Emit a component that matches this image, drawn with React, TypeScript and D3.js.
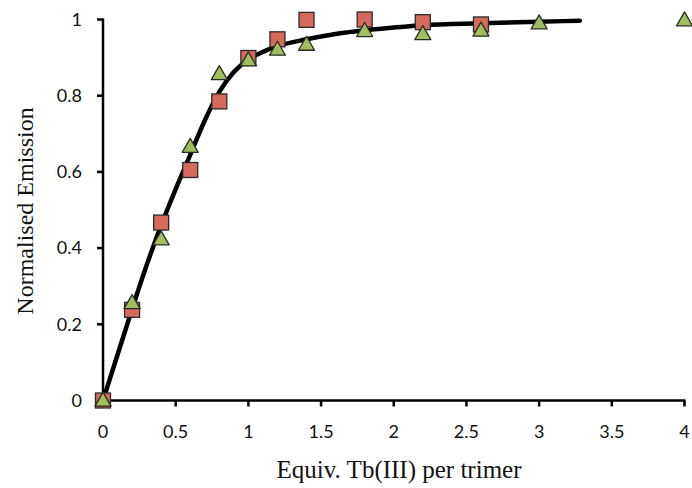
import React from "react";
import * as d3 from "d3";

// Titration: equivalents of Tb(III) added per trimer vs. normalised emission
const squareX = [0, 0.2, 0.4, 0.6, 0.8, 1.0, 1.2, 1.4, 1.8, 2.2, 2.6];
const squareY = [0, 0.238, 0.467, 0.605, 0.785, 0.899, 0.948, 0.999, 1.0, 0.993, 0.987];

const triangleX = [0, 0.2, 0.4, 0.6, 0.8, 1.0, 1.2, 1.4, 1.8, 2.2, 2.6, 3.0, 4.0];
const triangleY = [0, 0.256, 0.423, 0.666, 0.857, 0.893, 0.921, 0.934, 0.97, 0.962, 0.971, 0.99, 0.998];

// Fitted binding curve
const fitX = [0, 0.1, 0.2, 0.3, 0.4, 0.5, 0.6, 0.7, 0.8, 0.9, 1.0, 1.1, 1.2, 1.4, 1.6, 1.8, 2.0, 2.2, 2.6, 3.0, 3.28];
const fitY = [0, 0.12, 0.24, 0.355, 0.46, 0.555, 0.645, 0.735, 0.81, 0.862, 0.895, 0.915, 0.93, 0.948, 0.962, 0.972, 0.979, 0.985, 0.99, 0.994, 0.997];

const xTicks = [0, 0.5, 1, 1.5, 2, 2.5, 3, 3.5, 4];
const yTicks = [0, 0.2, 0.4, 0.6, 0.8, 1];

const W = 692;
const H = 488;

export default function App() {
  const x = d3.scaleLinear().domain([0, 4]).range([103, 684.5]);
  const y = d3.scaleLinear().domain([0, 1]).range([400.5, 19.5]);

  const fitData = fitX.map((v, i) => [v, fitY[i]] as [number, number]);
  const line = d3
    .line<[number, number]>()
    .x((d) => x(d[0]))
    .y((d) => y(d[1]))
    .curve(d3.curveMonotoneX);

  const sq = 15;
  const triW = 16;
  const triH = 14;
  const triPath = (cx: number, cy: number) =>
    `M${cx},${cy - triH * 0.6}L${cx + triW / 2},${cy + triH * 0.4}L${cx - triW / 2},${cy + triH * 0.4}Z`;

  const tickFont = "Lato, 'Open Sans', sans-serif";
  const titleFont = "'Liberation Serif', 'Times New Roman', serif";

  return (
    <svg
      width={W}
      height={H}
      style={{ position: "absolute", left: 0, top: 0, background: "#fff" }}
    >
      {/* axes */}
      <line x1={x(0)} x2={x(0)} y1={y(1) - 1} y2={y(0)} stroke="#000" strokeWidth={2.5} />
      <line x1={x(0)} x2={x(4) + 1} y1={y(0)} y2={y(0)} stroke="#000" strokeWidth={2.5} />
      {yTicks.map((t) => (
        <g key={"y" + t}>
          <line x1={x(0) - 6} x2={x(0)} y1={y(t)} y2={y(t)} stroke="#000" strokeWidth={2.5} />
          <text
            x={82}
            y={y(t)}
            dy="0.35em"
            textAnchor="end"
            fontFamily={tickFont}
            fontSize={18}
            fill="#111"
          >
            {t === 0 || t === 1 ? String(t) : t.toFixed(1)}
          </text>
        </g>
      ))}
      {xTicks.map((t) => (
        <g key={"x" + t}>
          <line x1={x(t)} x2={x(t)} y1={y(0)} y2={y(0) + 6} stroke="#000" strokeWidth={2.5} />
          <text
            x={x(t)}
            y={432}
            dy="0.35em"
            textAnchor="middle"
            fontFamily={tickFont}
            fontSize={18}
            fill="#111"
          >
            {String(t)}
          </text>
        </g>
      ))}

      {/* axis titles */}
      <text
        x={399}
        y={478}
        textAnchor="middle"
        fontFamily={titleFont}
        fontSize={25}
        fill="#111"
      >
        Equiv. Tb(III) per trimer
      </text>
      <text
        transform={`translate(33,211) rotate(-90)`}
        textAnchor="middle"
        fontFamily={titleFont}
        fontSize={24}
        fill="#111"
      >
        Normalised Emission
      </text>

      {/* fit curve */}
      <path d={line(fitData) ?? ""} fill="none" stroke="#000" strokeWidth={4.5} strokeLinecap="round" />

      {/* square series */}
      {squareX.map((v, i) => (
        <rect
          key={"s" + i}
          x={x(v) - sq / 2}
          y={y(squareY[i]) - sq / 2}
          width={sq}
          height={sq}
          fill="#d4695c"
          stroke="#2b2b2b"
          strokeWidth={1.3}
        />
      ))}

      {/* triangle series */}
      {triangleX.map((v, i) => (
        <path
          key={"t" + i}
          d={triPath(x(v), y(triangleY[i]))}
          fill="#9fbe5c"
          stroke="#2b2b2b"
          strokeWidth={1.3}
          strokeLinejoin="round"
        />
      ))}
    </svg>
  );
}
